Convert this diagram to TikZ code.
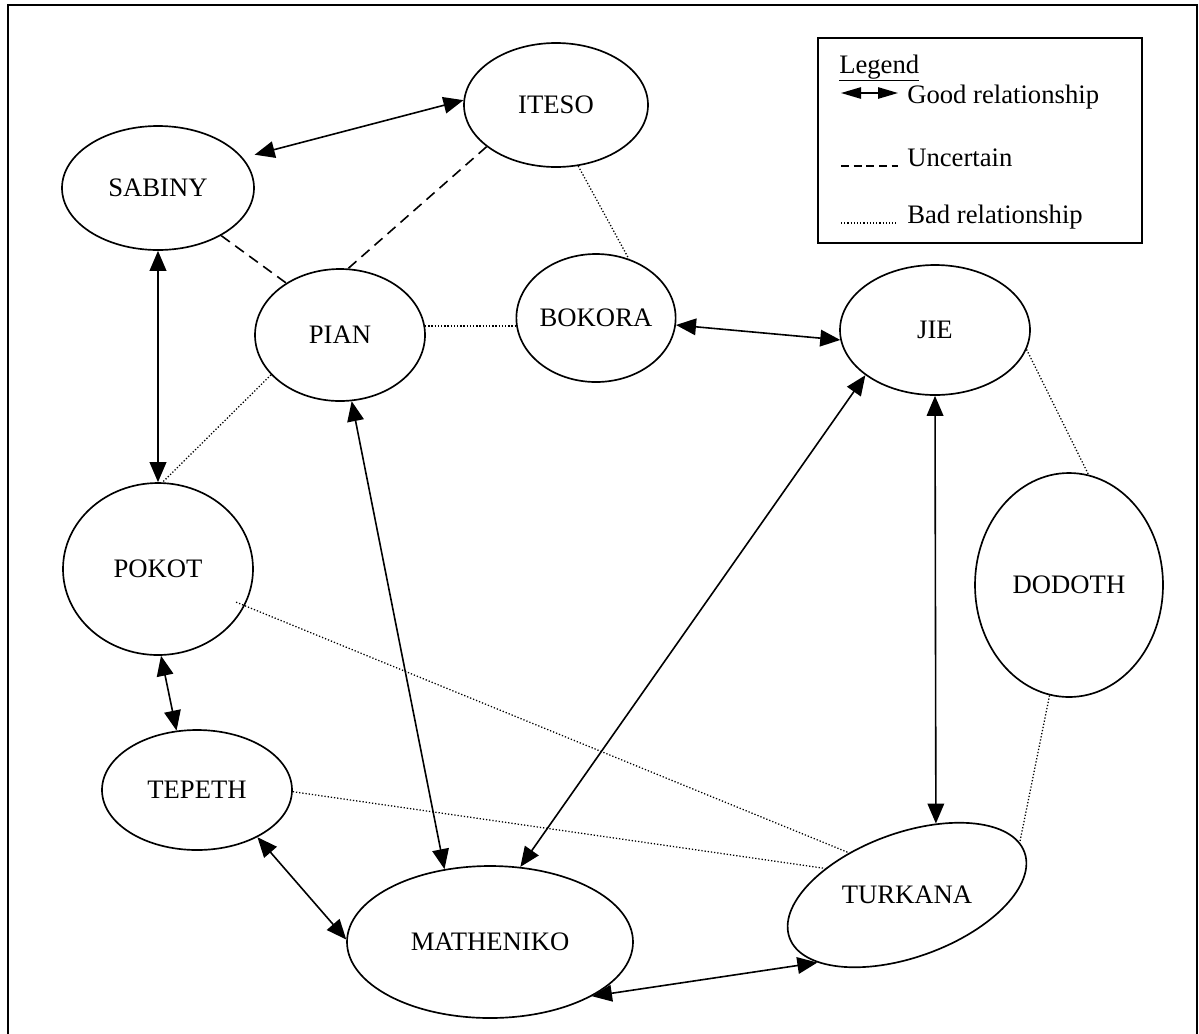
\documentclass[tikz,border=0pt]{standalone}
\usepackage{fontspec}
\setmainfont{Liberation Serif}
\usetikzlibrary{shapes.geometric,arrows.meta,calc}
\begin{document}
\begin{tikzpicture}[x=0.75pt,y=-0.75pt,
  tribe/.style 2 args={ellipse,draw,line width=1.25pt,inner sep=0pt,minimum width=#1*1.5pt,minimum height=#2*1.5pt,font=\fontsize{20}{24}\selectfont},
  good/.style={line width=1.2pt,{Triangle[length=15pt,width=12.5pt]}-{Triangle[length=15pt,width=12.5pt]}},
  unsure/.style={line width=1.2pt,dash pattern=on 8pt off 5pt},
  bad/.style={line width=0.95pt,dash pattern=on 0.95pt off 1.45pt},
  lbl/.style={font=\fontsize{20}{24}\selectfont,inner sep=0pt,anchor=base west}]
\useasboundingbox (0,0) rectangle (1199,1033);
% outer frame (bottom edge lies beyond the page)
\coordinate (fbl) at (8,1045);
\coordinate (ftl) at (8,5);
\coordinate (ftr) at (1197,5);
\coordinate (fbr) at (1197,1045);
\draw[line width=1.5pt] (fbl) -- (ftl) -- (ftr) -- (fbr);

% tribes
\node[tribe={92}{62}] (iteso) at (556,105) {ITESO};
\node[tribe={96}{62}] (sabiny) at (158,188) {SABINY};
\node[tribe={85}{66}] (pian) at (340,335) {PIAN};
\node[tribe={78}{64}] (bokora) at (596,318) {BOKORA};
\node[tribe={95}{65}] (jie) at (935,330) {JIE};
\node[tribe={94}{112}] (dodoth) at (1069,585) {DODOTH};
\node[tribe={95}{86}] (pokot) at (158,569) {POKOT};
\node[tribe={95}{60}] (tepeth) at (197,790) {TEPETH};
\node[tribe={143}{76}] (matheniko) at (490,942) {MATHENIKO};
\node[tribe={125}{62},rotate=20] (turkana) at (907,895) {};
\node[font=\fontsize{20}{24}\selectfont,inner sep=0pt] (turkanatxt) at (turkana.center) {TURKANA};

% good relationships
\draw[good] ($(sabiny.center)!1.13!(sabiny.19)$) -- (iteso.177);
\draw[good] (sabiny.south) -- (pokot.north);
\draw[good] (pian.-80) -- (matheniko.122);
\draw[good] (bokora.-5) -- (jie.186);
\draw[good] (jie.213) -- (matheniko.68);
\draw[good] (jie.south) -- (turkana.48);
\draw[good] (pokot.-88) -- (tepeth.109);
\draw[good] (tepeth.-38) -- (matheniko.179);
\draw[good] (matheniko.-28) -- (turkana.197);

% uncertain
\draw[unsure] (sabiny.-37) -- (pian.136);
\draw[unsure] (iteso.211) -- (pian.83);

% bad relationships
\draw[bad] (iteso.-70) -- (bokora.61);
\draw[bad] (pian.6) -- (pian.6 -| bokora.west);
\draw[bad] (pian.210) -- (pokot.87);
\draw[bad] (jie.-12) -- (dodoth.80);
\draw[bad] (dodoth.260) -- (turkana.5);
\draw[bad] ($(pokot.center)!0.9!(pokot.-23)$) -- (turkana.124);
\draw[bad] (tepeth.-1) -- (turkana.142);

% legend
\node[draw,line width=1.2pt,inner sep=0pt,anchor=north west,minimum width=243pt,minimum height=153.75pt] (legend) at (817,37) {};
\node[lbl] (legtitle) at (839,73) {\underline{Legend}};
\coordinate (g1) at (841,93);
\coordinate (g2) at (898,93);
\draw[line width=1.2pt,{Triangle[length=15pt,width=8.5pt]}-{Triangle[length=15pt,width=8.5pt]}] (g1) -- (g2);
\node[lbl] (goodtxt) at (907,103) {Good relationship};
\coordinate (u1) at (841,166);
\coordinate (u2) at (898,166);
\draw[line width=1.2pt,dash pattern=on 6pt off 3.5pt] (u1) -- (u2);
\node[lbl] (unsuretxt) at (907,166) {Uncertain};
\coordinate (b1) at (841,223);
\coordinate (b2) at (896,223);
\draw[bad] (b1) -- (b2);
\node[lbl] (badtxt) at (907,223) {Bad relationship};
\end{tikzpicture}
\end{document}
